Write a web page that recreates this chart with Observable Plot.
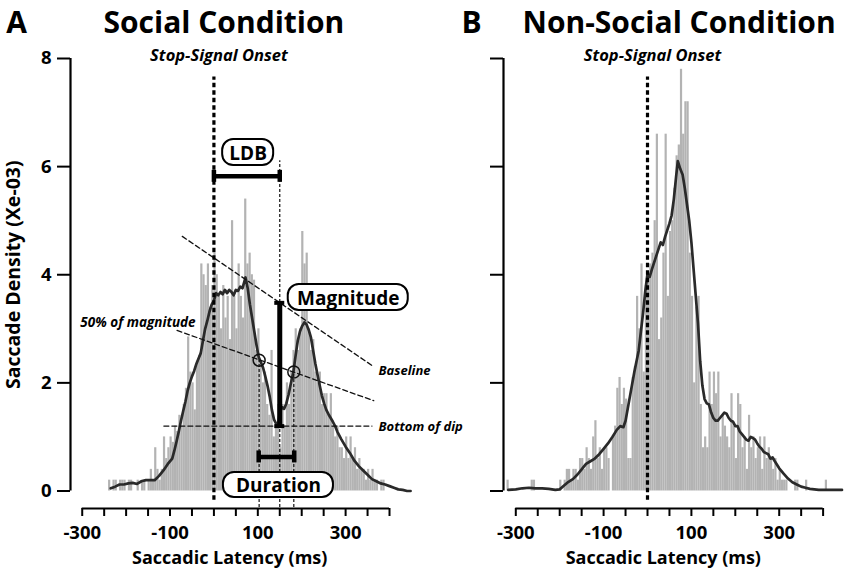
<!DOCTYPE html>
<html>
<head>
<meta charset="utf-8">
<script src="https://cdn.jsdelivr.net/npm/d3@7"></script>
<script src="https://cdn.jsdelivr.net/npm/@observablehq/plot@0.6"></script>
<style>
  html, body { margin: 0; padding: 0; background: #fff; }
  #wrap { display: flex; width: 850px; height: 572px; overflow: hidden; background: #fff; }
  #wrap > svg { flex: none; }
</style>
</head>
<body>
<div id="wrap"></div>
<script>
// ---------------- DATA ----------------
const BIN = 5; // ms bin width of histograms

// Social condition histogram (density, Xe-03), bins start at -240 ms
const socialStart = -240;
const socialHist = [
  0.2, 0, 0.2, 0.2, 0, 0.2, 0.2, 0.2, 0, 0.2, 0.2, 0, 0, 0.2, 0, 0.2, 0.2, 0, 0.2, 0.4, 0.2, 0.8, 0.4, 0.2,
  0.4, 1.0, 0.6, 0.8, 1.0, 0.9, 1.2, 1.1, 1.4, 1.2, 1.6, 1.9, 2.85, 2.2, 2.0, 1.5, 2.4, 2.5,
  4.2, 4.0, 3.8, 4.2, 3.4, 3.8, 4.4, 4.0, 3.6, 3.0, 3.8, 3.2, 3.6, 2.8, 5.0, 3.6, 3.0, 4.2, 3.6, 3.2,
  5.4, 4.2, 4.4, 4.0, 3.9, 2.6, 3.0, 2.4, 2.0, 2.2, 1.6, 1.4, 2.6, 1.0, 1.2, 1.6, 0.8, 1.6, 1.2, 2.0,
  1.6, 2.2, 2.6, 3.0, 2.6, 3.0, 4.8, 4.2, 4.4, 3.0, 2.6, 2.8, 2.2, 2.0, 2.2, 1.6, 1.8, 1.8, 1.4, 1.8,
  1.2, 1.0, 1.2, 0.8, 0.8, 0.6, 1.0, 0.6, 1.0, 0.6, 0.8, 0.4, 0.6, 0.4, 0.4, 0.2, 0.4, 0.2, 0.4, 0.2,
  0.2, 0, 0.2, 0.2, 0
];

// Non-social condition histogram, bins start at -320 ms
const nonSocialStart = -320;
const nonSocialHist = [
  0.2, 0, 0, 0, 0, 0, 0, 0, 0, 0, 0, 0.2, 0.2, 0, 0, 0, 0, 0, 0, 0, 0, 0, 0, 0,
  0.2, 0, 0.2, 0.4, 0.4, 0.2, 0.4, 0.4, 0.2, 0.6, 0.6, 0.4, 0.8, 0.6, 0.4, 1.0, 1.3, 0.6, 0.8, 0.4,
  0.8, 0.8, 0.6, 0, 1.0, 1.2, 1.9, 2.1, 1.6, 1.9, 1.7, 0.6, 0.6, 2.1, 2.3, 3.6, 3.0, 4.2, 2.2, 3.8,
  4.0, 4.2, 4.4, 5.0, 6.6, 2.8, 3.2, 4.4, 6.6, 3.6, 4.8, 5.0, 5.6, 6.2, 6.4, 7.8, 6.6, 7.2, 7.2, 4.4,
  3.6, 2.0, 3.4, 3.6, 1.6, 0.8, 1.0, 0.8, 2.2, 1.6, 2.2, 1.8, 2.2, 1.0, 1.4, 1.2, 1.0, 0.8, 1.8, 1.2,
  0.6, 1.8, 1.6, 0.8, 1.0, 0.4, 1.4, 0.8, 1.0, 0.6, 0.8, 1.0, 0.4, 1.0, 0.6, 0.8, 0.6, 0.4, 0.6, 0.2,
  0.4, 0.2, 0.2, 0.2, 0, 0, 0, 0.2, 0.2, 0, 0, 0, 0.2, 0, 0, 0, 0, 0, 0, 0, 0, 0.2
];

// Smoothed density curves [latency ms, density]
const socialCurve = [
  [-235,0.05],[-225,0.08],[-215,0.12],[-205,0.12],[-195,0.14],[-185,0.15],[-175,0.13],[-165,0.18],
  [-155,0.2],[-145,0.2],[-135,0.2],[-125,0.28],[-115,0.38],[-105,0.5],[-95,0.6],[-90,0.75],[-85,0.92],
  [-80,1.1],[-75,1.3],[-70,1.48],[-65,1.65],[-60,1.85],[-55,2.0],[-50,2.12],[-45,2.22],[-40,2.35],
  [-35,2.45],[-30,2.55],[-25,2.78],[-20,3.0],[-15,3.15],[-10,3.32],[-5,3.45],[0,3.52],[5,3.66],
  [10,3.62],[15,3.68],[20,3.64],[25,3.72],[30,3.66],[35,3.72],[40,3.68],[45,3.62],[50,3.72],
  [55,3.7],[60,3.78],[65,3.75],[72,3.95],[77,3.75],[82,3.45],[87,3.2],[92,2.95],[97,2.7],
  [102,2.48],[107,2.38],[112,2.28],[117,2.12],[122,1.95],[127,1.75],[132,1.5],[137,1.32],[142,1.24],
  [146,1.22],[150,1.45],[155,1.55],[160,1.52],[165,1.62],[170,1.78],[175,1.98],[181,2.2],[186,2.5],
  [191,2.78],[196,2.95],[201,3.05],[206,3.12],[211,3.08],[216,2.98],[221,2.84],[226,2.6],[231,2.36],
  [236,2.15],[241,1.95],[246,1.76],[251,1.62],[256,1.5],[261,1.42],[266,1.35],[271,1.28],[276,1.2],
  [281,1.1],[290,0.96],[300,0.82],[310,0.7],[320,0.56],[330,0.46],[340,0.38],[350,0.3],[360,0.22],
  [370,0.18],[380,0.14],[390,0.12],[400,0.09],[410,0.06],[420,0.03],[430,0.02],[440,0.0],[448,0.0]
];
const nonSocialCurve = [
  [-317,0.02],[-300,0.03],[-285,0.05],[-270,0.06],[-255,0.05],[-240,0.05],[-225,0.04],[-210,0.02],
  [-200,0.03],[-190,0.1],[-180,0.17],[-170,0.22],[-160,0.3],[-150,0.4],[-140,0.5],[-130,0.55],
  [-120,0.6],[-110,0.68],[-100,0.78],[-90,0.88],[-80,1.0],[-70,1.13],[-62,1.2],[-55,1.18],[-50,1.3],
  [-40,1.75],[-30,2.2],[-20,2.6],[-15,2.95],[-10,3.3],[-5,3.7],[0,4.02],[5,3.96],[10,4.1],[20,4.35],
  [30,4.6],[35,4.55],[40,4.7],[50,4.95],[55,5.1],[60,5.4],[65,5.8],[69,6.1],[75,5.95],[80,5.85],
  [85,5.6],[90,5.3],[95,5.0],[100,4.6],[105,4.1],[110,3.6],[115,3.1],[120,2.4],[125,1.95],[130,1.7],
  [135,1.62],[140,1.6],[145,1.45],[150,1.35],[155,1.3],[160,1.3],[165,1.35],[170,1.4],[175,1.45],
  [180,1.43],[185,1.35],[190,1.3],[195,1.28],[200,1.2],[205,1.2],[210,1.1],[215,1.05],[220,1.0],
  [225,0.95],[230,0.93],[235,1.0],[240,0.98],[245,0.95],[250,0.88],[255,0.82],[260,0.78],[265,0.72],
  [270,0.7],[275,0.68],[280,0.6],[285,0.62],[290,0.55],[300,0.42],[310,0.32],[320,0.23],[330,0.16],
  [340,0.12],[350,0.08],[360,0.06],[370,0.04],[380,0.03],[390,0.02],[400,0.02],[420,0.02],[443,0.02]
];

// Axis ticks
const yTicks = [0, 2, 4, 6, 8];
const xTicks = [-300,-250,-200,-150,-100,-50,0,50,100,150,200,250,300,350,400];
const xTickLabels = [-300, -100, 100, 300];

// Annotation values (social condition), in data units
const stopSignal = 0;
const ldb = {x1: 0, x2: 150, y: 5.82};
const magnitude = {x: 150, y1: 1.2, y2: 3.48};
const duration = {x1: 102, x2: 183, y: 0.63};
const halfPoints = [{x: 103, y: 2.42}, {x: 182, y: 2.2}];
const baselineLine = [[-72, 4.71], [364, 2.30]];
const halfLine = [[-84, 2.97], [364, 1.67]];
const dipLine = [[-114, 1.2], [360, 1.2]];

// ---------------- LAYOUT ----------------
const FONT = "'Open Sans', 'DejaVu Sans', sans-serif";
const W = 425, H = 572, MT = 58, MB = 64, MR = 5;
const yDomain = [-0.324, 8];

function panel(o) {
  const kx = (W - o.marginLeft - MR) / (o.xDomain[1] - o.xDomain[0]);
  const ky = (H - MT - MB) / (yDomain[1] - yDomain[0]);
  const hist = o.hist.map((v, i) => ({x1: o.start + i * BIN, x2: o.start + (i + 1) * BIN, y: v}));
  const yMax = d3.max(yTicks);
  const bold = {fontWeight: "bold", fill: "#000"};
  const ital = {fontWeight: "bold", fontStyle: "italic", fill: "#000"};
  const marks = [
    Plot.rect(hist, {x1: "x1", x2: "x2", y1: 0, y2: "y", fill: "#b3b3b3"}),
    Plot.line(o.curve, {x: d => d[0], y: d => d[1], stroke: "#2a2a2a", strokeWidth: 2.7, strokeLinejoin: "round"})
  ];
  if (o.annot) {
    const dash = {stroke: "#111", strokeWidth: 1.3, strokeDasharray: "5,3"};
    const thin = {stroke: "#111", strokeWidth: 1.2, strokeDasharray: "3,2"};
    const capH = 6 / ky, capW = 5 / kx;
    const box = (cx, cy, w, h) => ({x1: cx - w / 2 / kx, x2: cx + w / 2 / kx, y1: cy - h / 2 / ky, y2: cy + h / 2 / ky});
    const boxes = [
      {label: "LDB", cx: 78, cy: 6.26, w: 51, h: 26},
      {label: "Magnitude", cx: 306, cy: 3.58, w: 120, h: 26},
      {label: "Duration", cx: 147, cy: 0.11, w: 110, h: 25}
    ].map(b => ({...b, ...box(b.cx, b.cy, b.w, b.h)}));
    marks.push(
      Plot.line(baselineLine, {x: d => d[0], y: d => d[1], ...dash}),
      Plot.line(halfLine, {x: d => d[0], y: d => d[1], ...dash}),
      Plot.line(dipLine, {x: d => d[0], y: d => d[1], ...dash}),
      Plot.ruleX([ldb.x2], {y1: yDomain[0] + 0.02, y2: 6.11, ...thin}),
      Plot.ruleX(halfPoints, {x: "x", y1: yDomain[0] + 0.02, y2: "y", ...thin}),
      Plot.dot(halfPoints, {x: "x", y: "y", r: 6, stroke: "#111", strokeWidth: 1.5, fill: "none"}),
      // LDB bracket
      Plot.ruleY([ldb.y], {x1: ldb.x1, x2: ldb.x2, stroke: "#000", strokeWidth: 4.5}),
      Plot.ruleX([ldb.x1, ldb.x2], {x: d => d, y1: ldb.y - capH, y2: ldb.y + capH, stroke: "#000", strokeWidth: 4.5}),
      // Magnitude bar
      Plot.ruleX([magnitude.x], {y1: magnitude.y1, y2: magnitude.y2, stroke: "#000", strokeWidth: 5}),
      Plot.ruleY([magnitude.y1, magnitude.y2], {y: d => d, x1: magnitude.x - capW, x2: magnitude.x + capW, stroke: "#000", strokeWidth: 4}),
      // Duration bracket
      Plot.ruleY([duration.y], {x1: duration.x1, x2: duration.x2, stroke: "#000", strokeWidth: 4.5}),
      Plot.ruleX([duration.x1, duration.x2], {x: d => d, y1: duration.y - capH, y2: duration.y + capH, stroke: "#000", strokeWidth: 4.5}),
      // label boxes
      Plot.rect(boxes, {x1: "x1", x2: "x2", y1: "y1", y2: "y2", rx: 11, fill: "white", stroke: "#000", strokeWidth: 2}),
      Plot.text(boxes, {x: "cx", y: "cy", text: "label", fontSize: 19, ...bold, dy: 1}),
      Plot.text(["Baseline"], {x: 375, y: 2.23, text: d => d, textAnchor: "start", fontSize: 13, ...ital}),
      Plot.text(["Bottom of dip"], {x: 375, y: 1.19, text: d => d, textAnchor: "start", fontSize: 13, ...ital}),
      Plot.text(["50% of magnitude"], {x: -173, y: 3.12, text: d => d, fontSize: 13.5, ...ital})
    );
  }
  marks.push(
    // stop-signal dotted line
    Plot.ruleX([stopSignal], {y1: -0.17, y2: 7.66, stroke: "#000", strokeWidth: 3.2, strokeDasharray: "4.5,3"}),
    Plot.text(["Stop-Signal Onset"], {x: stopSignal, frameAnchor: "top", dx: 5, dy: -3, text: d => d,
      textAnchor: "middle", lineAnchor: "middle", fontSize: 16.5, ...ital}),
    // axes
    Plot.ruleX([o.xDomain[0]], {y1: 0, y2: yMax, stroke: "#000", strokeWidth: 2.2}),
    Plot.axisY({ticks: yTicks, tickSize: 13, tickPadding: 6, tickFormat: o.yLabels ? d => String(d) : () => "",
      fontSize: 18.5, fontWeight: "bold", stroke: "#000", strokeWidth: 2, fill: "#000", label: null}),
    Plot.ruleY([yDomain[0]], {x1: d3.min(xTicks), x2: d3.max(xTicks), stroke: "#000", strokeWidth: 2.2}),
    Plot.axisX({ticks: xTicks, tickSize: 8, tickPadding: 9, tickFormat: d => xTickLabels.includes(d) ? String(d) : "",
      fontSize: 18.5, fontWeight: "bold", stroke: "#000", strokeWidth: 2, fill: "#000", label: null}),
    Plot.text(["Saccadic Latency (ms)"], {x: (d3.min(xTicks) + d3.max(xTicks)) / 2 - 14, frameAnchor: "bottom", dy: 50, text: d => d,
      textAnchor: "middle", lineAnchor: "middle", fontSize: 18, ...bold}),
    // panel titles
    Plot.text([o.letter], {frameAnchor: "top-left", dx: o.letterDx, dy: -35.3, text: d => d, fontSize: 30, ...bold,
      textAnchor: "middle", lineAnchor: "middle"}),
    Plot.text([o.title], {frameAnchor: "top-left", dx: o.titleDx, dy: -35.3, text: d => d, fontSize: 30, ...bold,
      textAnchor: "start", lineAnchor: "middle"})
  );
  if (o.yLabels) {
    marks.push(Plot.text(["Saccade Density (Xe-03)"], {y: yMax / 2, frameAnchor: "left", dx: -57, rotate: -90, text: d => d,
      textAnchor: "middle", lineAnchor: "middle", fontSize: 19.5, ...bold}));
  }
  return Plot.plot({
    width: W, height: H,
    marginLeft: o.marginLeft, marginRight: MR, marginTop: MT, marginBottom: MB,
    x: {domain: o.xDomain},
    y: {domain: yDomain},
    style: {fontFamily: FONT, overflow: "visible", background: "transparent", color: "#000"},
    marks
  });
}

const wrap = document.getElementById("wrap");
const svgA = panel({
  hist: socialHist, start: socialStart, curve: socialCurve,
  marginLeft: 70, xDomain: [-326.7, 470.6], annot: true, yLabels: true,
  letter: "A", letterDx: -54, title: "Social Condition", titleDx: 33
});
const svgB = panel({
  hist: nonSocialHist, start: nonSocialStart, curve: nonSocialCurve,
  marginLeft: 78, xDomain: [-328, 451], annot: false, yLabels: false,
  letter: "B", letterDx: -32, title: "Non-Social Condition", titleDx: 19
});
// panel A drawn on top so its right-side labels may extend over panel B's empty margin
svgA.style.position = "relative";
svgA.style.zIndex = "1";
wrap.append(svgA, svgB);
</script>
</body>
</html>
